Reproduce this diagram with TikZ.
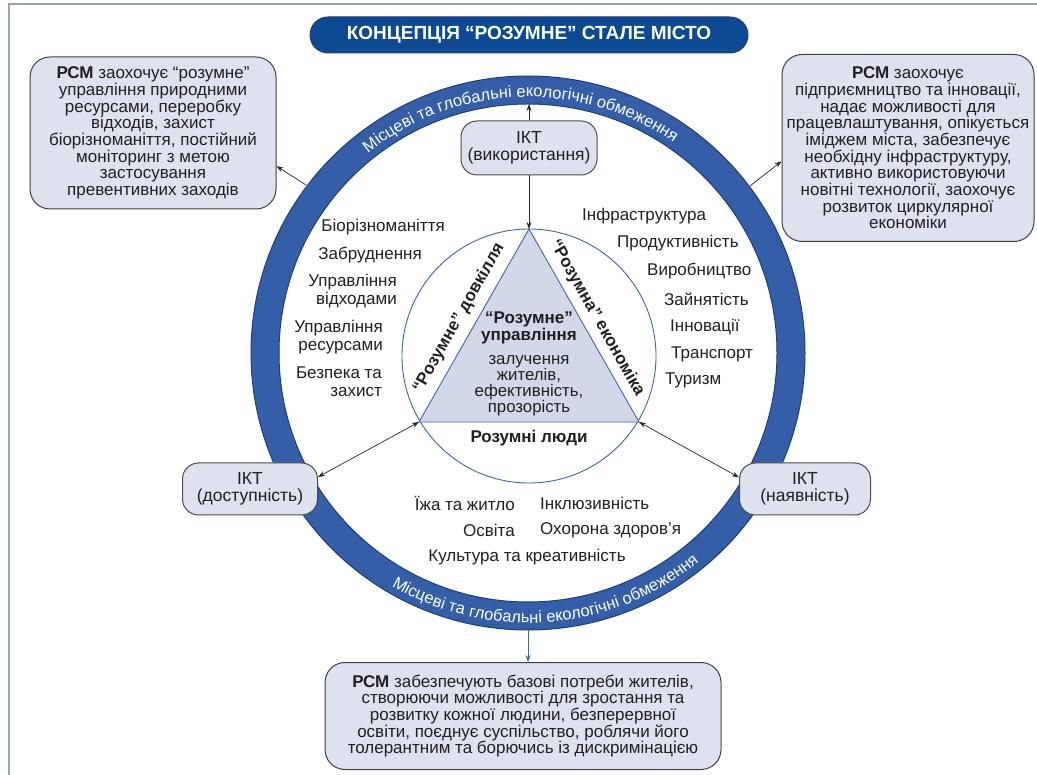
\documentclass[tikz,border=0pt]{standalone}
\usepackage{fontspec}
\setmainfont{Liberation Sans}
\usetikzlibrary{arrows.meta,decorations.text,calc}
\definecolor{ringblue}{HTML}{355EA8}
\definecolor{ringedge}{HTML}{1E3D7A}
\definecolor{titleblue}{HTML}{0E4A93}
\definecolor{boxfill}{HTML}{DEE1EE}
\definecolor{trifill}{HTML}{D2D7E9}
\definecolor{thinblue}{HTML}{3C67A3}
\definecolor{framecol}{HTML}{93A6BA}
\definecolor{txt}{HTML}{231F20}
\newcommand\myfs[2]{\fontsize{#1}{#2}\selectfont}
\begin{document}
\begin{tikzpicture}[x=1pt,y=-1pt,
 infobox/.style={draw=black!75, fill=boxfill, line width=1pt, rounded corners=20pt, align=center, text=txt, font=\myfs{17}{16.7}, inner sep=0pt},
 ikt/.style={draw=black!70, fill=boxfill, line width=1pt, rounded corners=16pt, align=center, text=txt, font=\myfs{17.5}{17}, inner sep=0pt},
 lbl/.style={text=txt, font=\myfs{17}{18}, inner sep=0pt},
 bl/.style={text=txt, font=\bfseries\myfs{17}{17}, inner sep=0pt},
 arr/.style={-{Stealth[length=7pt,width=5pt]}, line width=0.7pt, draw=black!85},
 darr/.style={{Stealth[length=7pt,width=5pt]}-{Stealth[length=7pt,width=5pt]}, line width=0.7pt, draw=black!85},
]
\useasboundingbox (0,0) rectangle (1037,775);
\fill[white] (0,0) rectangle (1037,775);
\draw[framecol, line width=2pt] (9,775) -- (9,4) -- (1037,4);

% title
\node[fill=titleblue, draw=ringedge, line width=1pt, rounded corners=18pt, minimum width=438pt, minimum height=36pt, text=white, font=\bfseries\myfs{19}{19}] (title) at (529,35) {КОНЦЕПЦІЯ “РОЗУМНЕ” СТАЛЕ МІСТО};

% ring
\coordinate (C) at (528,353);
\fill[ringblue, even odd rule] (C) circle[radius=277] (C) circle[radius=249];
\draw[ringedge, line width=1pt] (C) circle[radius=277] (C) circle[radius=249];
\path[decorate, decoration={text along path, text align=center, text={|\color{white}\myfs{16.5}{16.5}|Місцеві та глобальні екологічні обмеження}}] ($(C)+(-165:256)$) arc[start angle=-165, end angle=-19, radius=256];
\path[decorate, decoration={text along path, text align=center, text={|\color{white}\myfs{16.5}{16.5}|Місцеві та глобальні екологічні обмеження}}] ($(C)+(140:270)$) arc[start angle=140, end angle=31, radius=270];

% inner circle and triangle
\draw[thinblue, line width=0.9pt] (529,356) circle[radius=127];
\coordinate (T) at (529,229);
\coordinate (L) at (419,422);
\coordinate (R) at (639,422);
\filldraw[fill=trifill, draw=thinblue, line width=0.9pt] (T) -- (L) -- (R) -- cycle;

\node[bl, rotate=60.5] (envl) at (459,318) {“Розумне” довкілля};
\node[bl, rotate=-60.5] (ecol) at (597,318) {“Розумна” економіка};
\node[bl, align=center] (gov) at (529,328) {“Розумне”\\управління};
\node[lbl, align=center, font=\myfs{16.8}{16}] (govd) at (529,386) {залучення\\жителів,\\ефективність,\\прозорість};
\node[bl] (people) at (529,438) {Розумні люди};

% left list
\node[lbl, anchor=east] (e1) at (445,227) {Біорізноманіття};
\node[lbl, anchor=east] (e2) at (422,255) {Забруднення};
\node[lbl, anchor=east, align=right] (e3) at (397,291) {Управління\\відходами};
\node[lbl, anchor=east, align=right] (e4) at (383,337) {Управління\\ресурсами};
\node[lbl, anchor=east, align=right] (e5) at (382,382) {Безпека та\\захист};

% right list
\node[lbl, anchor=west] (c1) at (582,216) {Інфраструктура};
\node[lbl, anchor=west] (c2) at (617,243) {Продуктивність};
\node[lbl, anchor=west] (c3) at (647,271) {Виробництво};
\node[lbl, anchor=west] (c4) at (664,299) {Зайнятість};
\node[lbl, anchor=west] (c5) at (670,327) {Інновації};
\node[lbl, anchor=west] (c6) at (671,354) {Транспорт};
\node[lbl, anchor=west] (c7) at (665,380) {Туризм};

% bottom list
\node[lbl, anchor=east] (p1) at (515,503) {Їжа та житло};
\node[lbl, anchor=west] (p2) at (540,503) {Інклюзивність};
\node[lbl, anchor=east] (p3) at (515,530) {Освіта};
\node[lbl, anchor=west] (p4) at (540,530) {Охорона здоров’я};
\node[lbl] (p5) at (527,557) {Культура та креативність};

% ICT nodes
\node[ikt, minimum width=136pt, minimum height=54pt] (ikt1) at (529,148) {ІКТ\\(використання)};
\node[ikt, minimum width=135pt, minimum height=52pt] (ikt2) at (250,489) {ІКТ\\(доступність)};
\node[ikt, minimum width=131pt, minimum height=52pt] (ikt3) at (805,489) {ІКТ\\(наявність)};

% info boxes
\node[infobox, minimum width=246pt, minimum height=152pt] (tl) at (153,133) {\textbf{РСМ} заохочує “розумне”\\управління природними\\ресурсами, переробку\\відходів, захист\\біорізноманіття, постійний\\моніторинг з метою\\застосування\\превентивних заходів};
\node[infobox, minimum width=252pt, minimum height=187pt] (tr) at (908,148) {\textbf{РСМ} заохочує\\підприємництво та інновації,\\надає можливості для\\працевлаштування, опікується\\іміджем міста, забезпечує\\необхідну інфраструктуру,\\активно використовуючи\\новітні технології, заохочує\\розвиток циркулярної\\економіки};
\node[infobox, minimum width=396pt, minimum height=107pt] (bt) at (523,716) {\textbf{РСМ} забезпечують базові потреби жителів,\\створюючи можливості для зростання та\\розвитку кожної людини, безперервної\\освіти, поєднує суспільство, роблячи його\\толерантним та борючись із дискримінацією};

% connectors
\coordinate (ringT) at (529,104);
\coordinate (rTL) at (306,185);
\coordinate (rTR) at (750,186);
\coordinate (rB) at (528,630);
\draw[arr] (ikt1.south) -- (T);
\draw[arr] (ikt1.north) -- (ringT);
\draw[darr] (L) -- (ikt2.10);
\draw[darr] (R) -- (ikt3.170);
\draw[arr] (rTL) -- (tl.-15);
\draw[arr] (rTR) -- (tr.186);
\draw[-{Stealth[length=7pt,width=5pt]}, line width=0.8pt, draw=thinblue, fill=thinblue] (rB) -- (rB |- bt.north);
\end{tikzpicture}
\end{document}
